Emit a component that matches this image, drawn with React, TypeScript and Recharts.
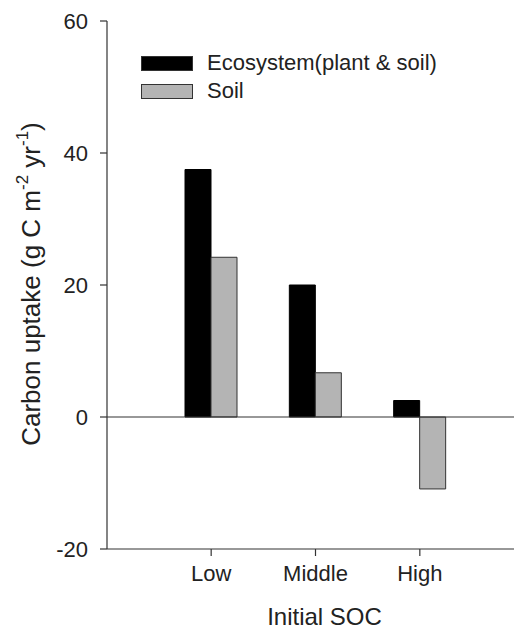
import React from 'react';
import { BarChart, Bar, XAxis, YAxis, ReferenceLine, Legend, Label } from 'recharts';

const categories = ['Low', 'Middle', 'High'];
const ecosystemValues = [37.5, 20.0, 2.5];
const soilValues = [24.2, 6.7, -10.9];
const yTicks = [-20, 0, 20, 40, 60];

const data = categories.map((c, i) => ({
  name: c,
  ecosystem: ecosystemValues[i],
  soil: soilValues[i],
}));

const TEXT = '#222';
const FONT = '"Liberation Sans", Arial, Helvetica, sans-serif';

const renderLegend = (props: any) => {
  const { payload } = props;
  return (
    <div style={{ fontFamily: FONT }}>
      {(payload || []).map((p: any) => (
        <div key={p.value} style={{ display: 'flex', alignItems: 'center', height: 28 }}>
          <span
            style={{
              display: 'inline-block',
              width: 52,
              height: 15,
              boxSizing: 'border-box',
              background: p.color,
              border: '1px solid #333',
            }}
          />
          <span style={{ marginLeft: 14, fontSize: 22, color: TEXT, lineHeight: '28px' }}>{p.value}</span>
        </div>
      ))}
    </div>
  );
};

const YTitle = (props: any) => {
  const vb = props.viewBox || { x: 0, y: 0, width: 0, height: 0 };
  const cx = vb.x + 31;
  const cy = vb.y + vb.height / 2 - 1;
  return (
    <text
      x={cx}
      y={cy}
      transform={`rotate(-90, ${cx}, ${cy})`}
      textAnchor="middle"
      dominantBaseline="central"
      fontSize={26}
      fill={TEXT}
      fontFamily={FONT}
    >
      Carbon uptake (g C m
      <tspan dy={-9} fontSize={17}>-2</tspan>
      <tspan dy={9}> yr</tspan>
      <tspan dy={-9} fontSize={17}>-1</tspan>
      <tspan dy={9}>)</tspan>
    </text>
  );
};

const XTitle = (props: any) => {
  const vb = props.viewBox || { x: 0, y: 0, width: 0, height: 0 };
  return (
    <text
      x={vb.x + vb.width / 2 + 14}
      y={vb.y + 76}
      textAnchor="middle"
      fontSize={24}
      fill={TEXT}
      fontFamily={FONT}
    >
      Initial SOC
    </text>
  );
};

export default function App() {
  return (
    <div style={{ position: 'absolute', left: 0, top: 0, fontFamily: FONT, background: '#fff' }}>
      <BarChart
        width={514}
        height={630}
        data={data}
        margin={{ top: 21, right: 0, bottom: 0, left: 0 }}
        barGap={0}
        barCategoryGap={26}
      >
        <XAxis
          dataKey="name"
          height={81}
          padding={{ left: 52, right: 42 }}
          tickSize={7}
          tickMargin={9}
          axisLine={{ stroke: '#333', strokeWidth: 1.2 }}
          tickLine={{ stroke: '#333', strokeWidth: 1.2 }}
          tick={{ fill: TEXT, fontSize: 22 }}
        >
          <Label content={<XTitle />} />
        </XAxis>
        <YAxis
          width={107}
          domain={[-20, 60]}
          ticks={yTicks}
          type="number"
          allowDataOverflow
          tickSize={7}
          tickMargin={12}
          axisLine={{ stroke: '#333', strokeWidth: 1.2 }}
          tickLine={{ stroke: '#333', strokeWidth: 1.2 }}
          tick={{ fill: TEXT, fontSize: 22 }}
        >
          <Label content={<YTitle />} />
        </YAxis>
        <ReferenceLine y={0} stroke="#333" strokeWidth={1.2} />
        <Legend
          layout="vertical"
          align="center"
          verticalAlign="middle"
          content={renderLegend}
          wrapperStyle={{ left: 141, top: 49, width: 'auto', height: 'auto' }}
        />
        <Bar
          dataKey="ecosystem"
          name="Ecosystem(plant & soil)"
          fill="#000000"
          stroke="#000000"
          strokeWidth={1}
          isAnimationActive={false}
        />
        <Bar
          dataKey="soil"
          name="Soil"
          fill="#b4b4b4"
          stroke="#333333"
          strokeWidth={1}
          isAnimationActive={false}
        />
      </BarChart>
    </div>
  );
}
